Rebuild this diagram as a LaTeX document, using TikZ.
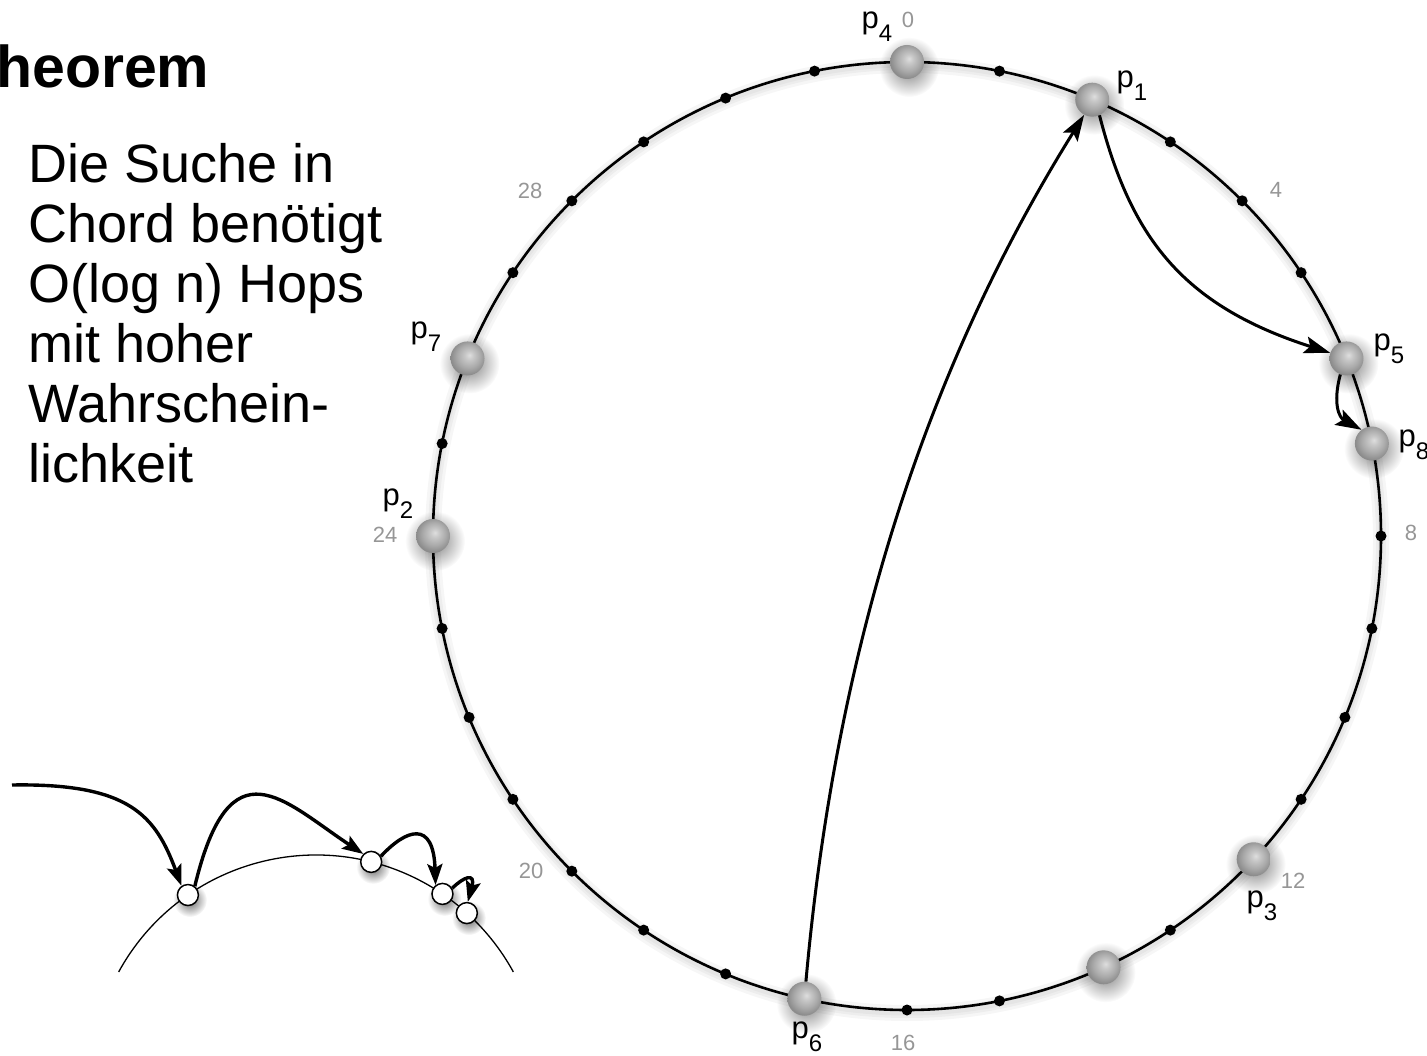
\documentclass[tikz,border=0pt]{standalone}
\usepackage{fontspec}
\setmainfont{Liberation Sans}
\usetikzlibrary{arrows.meta,fadings}
\definecolor{numgray}{RGB}{150,150,150}
\definecolor{bA}{RGB}{222,222,222}
\definecolor{bB}{RGB}{198,198,198}
\definecolor{bC}{RGB}{170,170,170}
\definecolor{bD}{RGB}{140,140,140}
\pgfdeclareradialshading{chordball}{\pgfpoint{3bp}{5bp}}{color(0bp)=(bA); color(7bp)=(bB); color(17bp)=(bC); color(26bp)=(bD); color(50bp)=(bD)}
\tikzfading[name=softfade, inner color=transparent!0, outer color=transparent!100]
\newcommand\plab[1]{p\raisebox{-13pt}{\fontsize{24}{24}\selectfont #1}}
\tikzset{
  ring/.style={line width=2.6pt},
  tickdot/.style={fill=black},
  ball/.style={circle, minimum size=34pt, inner sep=0pt, shade, shading=chordball},
  hopline/.style={line width=3pt, arrows={-Stealth[length=26pt,width=17pt,inset=5pt]}},
  smallhopline/.style={line width=3.4pt, arrows={-Stealth[length=21pt,width=15pt,inset=4pt]}},
  plabel/.style={font=\fontsize{31}{31}\selectfont, inner sep=0pt},
  numlabel/.style={font=\fontsize{22}{22}\selectfont, text=numgray, inner sep=0pt},
  minicirc/.style={circle, draw, line width=1.5pt, fill=white, minimum size=21pt, inner sep=0pt},
  softshadow/.style={fill=black, path fading=softfade, opacity=#1},
}
\begin{document}
\begin{tikzpicture}[x=1pt, y=-1pt]
\useasboundingbox (0,0) rectangle (1427,1056);

% ---- left text ----
\node[anchor=base west, inner sep=0pt, font=\bfseries\fontsize{59}{59}\selectfont] (title) at (-40,88) {Theorem};
\node[anchor=north west, inner sep=0pt, align=left, font=\fontsize{54}{60}\selectfont] (txt) at (28,143)
  {Die Suche in\\Chord benötigt\\O(log n) Hops\\mit hoher\\Wahrschein-\\lichkeit};

% ---- main ring ----
\foreach \w in {16,10,5} \draw[line width=\w pt, black, opacity=0.035] (907,539) circle (474);
\draw[ring] (907,536) circle (474);
\foreach \k in {1,3,4,5,8,9,10,11,13,15,16,18,19,20,21,22,23,25,27,28,29,30,31}
  \fill[tickdot] ({907+474*sin(\k*11.25)},{536-474*cos(\k*11.25)}) circle (5.5);

% ---- peers ----
\foreach \a/\n in {0/p4, 23/p1, 68/p5, 78.75/p8, 133/p3, 155.5/u14, 192.5/p6, 270/p2, 292/p7} {
  \fill[softshadow=0.5] ({907+474*sin(\a)+2},{536-474*cos(\a)+5}) circle (30);
  \node[ball] (\n) at ({907+474*sin(\a)},{536-474*cos(\a)}) {};
}

% ---- hops ----
\draw[hopline] (p6.85) .. controls +(34,-382) and +(-134,215) .. (p1.-118);
\draw[hopline] (p1.-65) .. controls +(31,120) and +(-150,-48) .. (p5.161);
\draw[hopline] (p5.-111) .. controls +(-8,30) and +(-22,-12) .. (p8.127);

% ---- peer labels ----
\node[plabel] (l4) at (877,27) {\plab{4}};
\node[plabel] (l1) at (1132,86) {\plab{1}};
\node[plabel] (l5) at (1389,349) {\plab{5}};
\node[plabel] (l8) at (1414,445) {\plab{8}};
\node[plabel] (l3) at (1262,906) {\plab{3}};
\node[plabel] (l6) at (807,1037) {\plab{6}};
\node[plabel] (l2) at (398,504) {\plab{2}};
\node[plabel] (l7) at (426,337) {\plab{7}};

% ---- position numbers ----
\node[numlabel] (n0) at (908,20) {0};
\node[numlabel] (n4) at (1276,190) {4};
\node[numlabel] (n8) at (1411,533) {8};
\node[numlabel] (n12) at (1293,881) {12};
\node[numlabel] (n16) at (903,1043) {16};
\node[numlabel] (n20) at (531,871) {20};
\node[numlabel] (n24) at (385,535) {24};
\node[numlabel] (n28) at (530,191) {28};

% ---- small sketch ----
\draw[line width=1.3pt] (316,1080) ++(208.7:225) arc[start angle=208.7, end angle=331.3, radius=225];
\coordinate (s0) at (12,785);
\foreach \a/\n in {-34.7/c1, 14.2/c2, 34.2/c3, 42.1/c4} {
  \fill[softshadow=0.6] ({316+225*sin(\a)+2},{1080-225*cos(\a)+5}) circle (17);
  \node[minicirc] (\n) at ({316+225*sin(\a)},{1080-225*cos(\a)}) {};
}
\draw[smallhopline] (s0) .. controls +(118,-2) and +(-26,-70) .. (c1.125);
\draw[smallhopline] (c1.52) .. controls +(35,-146) and +(-80,-53) .. (c2.135);
\draw[smallhopline] (c2.30) .. controls +(25,-27) and +(-2,-66) .. (c3.128);
\draw[smallhopline] (c3.30) .. controls +(11,-11) and +(8,-30) .. (c4.85);
\end{tikzpicture}
\end{document}
